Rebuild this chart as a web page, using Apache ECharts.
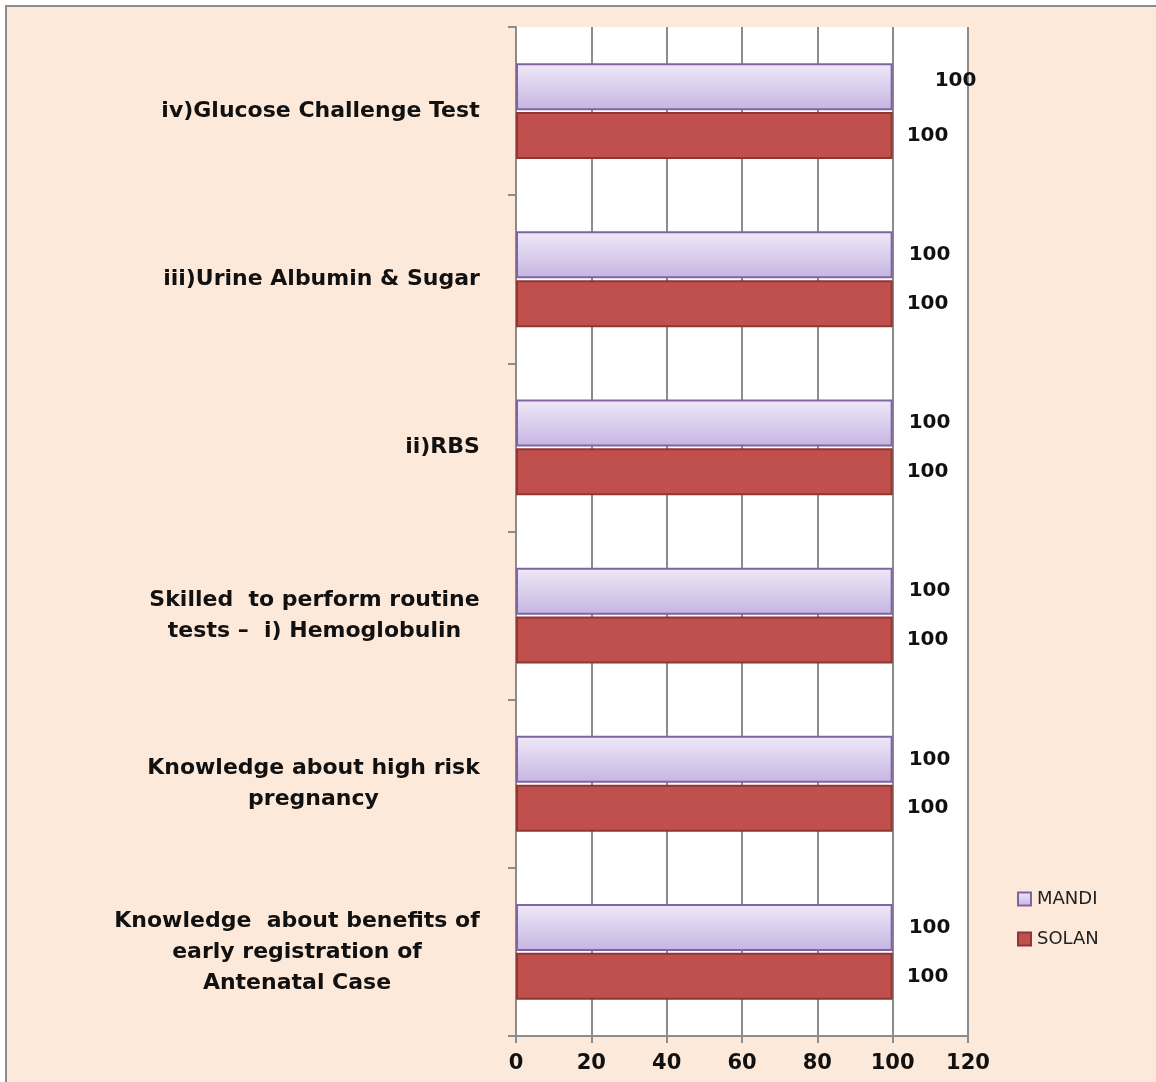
<!DOCTYPE html>
<html>
<head>
<meta charset="utf-8">
<script src="https://cdn.jsdelivr.net/npm/echarts@6/dist/echarts.min.js"></script>
<style>
  html, body { margin: 0; padding: 0; background: #fff; }
  #chart { width: 1156px; height: 1082px; }
</style>
</head>
<body>
<div id="chart"></div>
<script>
// categories, bottom to top (category axis starts at the bottom)
var categories = [
    'Knowledge  about benefits of\nearly registration of\nAntenatal Case',
    'Knowledge about high risk\npregnancy',
    'Skilled  to perform routine\ntests –  i) Hemoglobulin',
    'ii)RBS',
    'iii)Urine Albumin & Sugar',
    'iv)Glucose Challenge Test'
];
var mandi = [100, 100, 100, 100, 100, 100];
var solan = [100, 100, 100, 100, 100, 100];
var xTicks = [0, 20, 40, 60, 80, 100, 120];

var labelFont = 'bold 22px "DejaVu Sans"';

// width of the widest line of each label, so lines can be centred in a block
function measureLines(text) {
    var ctx = document.createElement('canvas').getContext('2d');
    ctx.font = labelFont;
    var w = 0;
    text.split('\n').forEach(function (line) {
        w = Math.max(w, ctx.measureText(line).width);
    });
    return Math.ceil(w) + 2;
}

var rich = {};
categories.forEach(function (c, i) {
    rich['c' + i] = {
        width: measureLines(c),
        align: 'center',
        fontFamily: 'DejaVu Sans',
        fontWeight: 'bold',
        fontSize: 22,
        lineHeight: 31,
        color: '#111'
    };
});

var myChart = echarts.init(document.getElementById('chart'));

var valueLabel = {
    show: true,
    position: 'right',
    fontFamily: 'DejaVu Sans',
    fontWeight: 'bold',
    fontSize: 20,
    color: '#111'
};

var option = {
    backgroundColor: '#fff',
    animation: false,
    graphic: [{
        type: 'rect',
        z: -10,
        silent: true,
        shape: { x: 6, y: 6, width: 1160, height: 1090 },
        style: { fill: '#FDE9D9', stroke: '#8c8c8c', lineWidth: 2 }
    }],
    legend: {
        orient: 'vertical',
        left: 1012,
        top: 885,
        icon: 'rect',
        itemWidth: 13,
        itemHeight: 13,
        itemGap: 22,
        data: ['MANDI', 'SOLAN'],
        textStyle: { fontFamily: 'DejaVu Sans', fontSize: 18, color: '#222', padding: [0, 0, 0, 1] }
    },
    grid: {
        left: 516,
        right: 188,
        top: 27,
        bottom: 46,
        show: true,
        backgroundColor: '#fff',
        borderWidth: 0
    },
    xAxis: {
        type: 'value',
        min: xTicks[0],
        max: xTicks[xTicks.length - 1],
        interval: 20,
        axisLine: { show: true, lineStyle: { color: '#8c8c8c', width: 2 } },
        axisTick: { show: true, length: 7, lineStyle: { color: '#8c8c8c', width: 2 } },
        splitLine: { show: true, lineStyle: { color: '#8c8c8c', width: 2 } },
        axisLabel: {
            margin: 17,
            fontFamily: 'DejaVu Sans',
            fontWeight: 'bold',
            fontSize: 21,
            color: '#111'
        }
    },
    yAxis: {
        type: 'category',
        data: categories,
        axisLine: { show: true, lineStyle: { color: '#8c8c8c', width: 2 } },
        axisTick: { show: true, length: 8, lineStyle: { color: '#8c8c8c', width: 2 } },
        axisLabel: {
            margin: 35,
            formatter: function (value, idx) {
                return value.split('\n').map(function (line) {
                    return '{c' + idx + '|' + line + '}';
                }).join('\n');
            },
            rich: rich
        }
    },
    series: [
        {
            name: 'MANDI',
            type: 'bar',
            barWidth: 47,
            barGap: '4%',
            data: mandi.map(function (v, i) {
                // top label sits a bit further out in the original
                if (i === mandi.length - 1) {
                    return { value: v, label: { offset: [26, -6] } };
                }
                return v;
            }),
            itemStyle: {
                color: new echarts.graphic.LinearGradient(0, 0, 0, 1, [
                    { offset: 0, color: '#EFEAF8' },
                    { offset: 1, color: '#C6B4E1' }
                ]),
                borderColor: '#8064A2',
                borderWidth: 2
            },
            label: Object.assign({ distance: 16 }, valueLabel)
        },
        {
            name: 'SOLAN',
            type: 'bar',
            barWidth: 47,
            data: solan,
            itemStyle: {
                color: '#C0504D',
                borderColor: '#8E3634',
                borderWidth: 2
            },
            label: Object.assign({ distance: 14 }, valueLabel)
        }
    ]
};

myChart.setOption(option);
</script>
</body>
</html>
